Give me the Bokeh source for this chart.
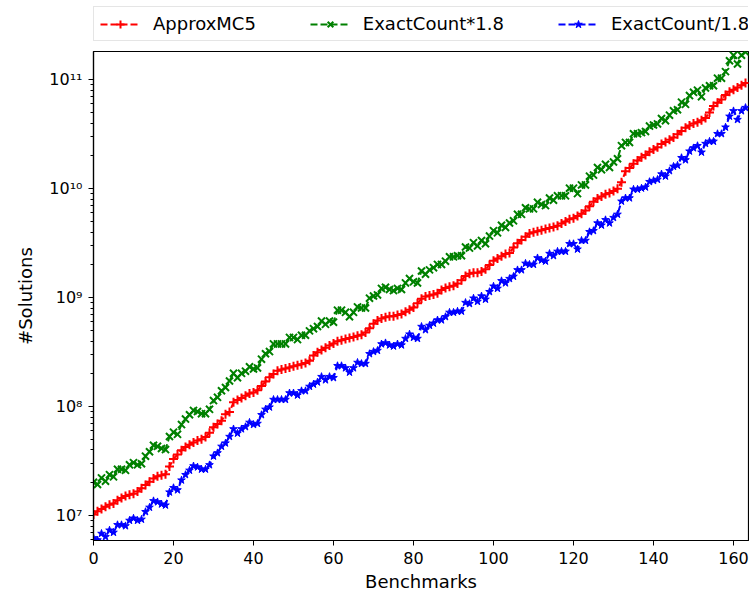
from bokeh.plotting import figure
from bokeh.layouts import column
from bokeh.models import Range1d, FixedTicker, CustomJSTickFormatter, Legend, LegendItem
from bokeh.embed import file_html
from bokeh.resources import INLINE

# Benchmark index
benchmarks = list(range(164))

# log10 of ApproxMC5 counts
approx_log10 = [
    7.01, 7.04, 7.06, 7.08, 7.10, 7.11, 7.14, 7.16, 7.18, 7.19,
    7.20, 7.22, 7.25, 7.28, 7.31, 7.34, 7.36, 7.37, 7.38, 7.45,
    7.52, 7.56, 7.60, 7.63, 7.65, 7.67, 7.69, 7.70, 7.72, 7.76,
    7.81, 7.84, 7.87, 7.93, 7.95, 8.04, 8.06, 8.08, 8.10, 8.12,
    8.13, 8.15, 8.19, 8.23, 8.27, 8.30, 8.33, 8.34, 8.35, 8.36,
    8.37, 8.38, 8.39, 8.40, 8.42, 8.47, 8.50, 8.52, 8.54, 8.56,
    8.58, 8.60, 8.61, 8.62, 8.63, 8.64, 8.65, 8.66, 8.68, 8.72,
    8.76, 8.79, 8.81, 8.82, 8.83, 8.83, 8.84, 8.85, 8.87, 8.89,
    8.91, 8.95, 8.99, 9.01, 9.02, 9.03, 9.04, 9.07, 9.09, 9.10,
    9.11, 9.13, 9.16, 9.20, 9.22, 9.23, 9.23, 9.24, 9.26, 9.30,
    9.34, 9.36, 9.38, 9.40, 9.41, 9.46, 9.50, 9.53, 9.56, 9.59,
    9.60, 9.61, 9.62, 9.63, 9.64, 9.65, 9.66, 9.68, 9.70, 9.72,
    9.73, 9.75, 9.77, 9.80, 9.84, 9.88, 9.91, 9.93, 9.95, 9.96,
    9.98, 10.00, 10.06, 10.16, 10.19, 10.23, 10.26, 10.29, 10.31, 10.34,
    10.36, 10.38, 10.41, 10.43, 10.45, 10.47, 10.50, 10.53, 10.56, 10.58,
    10.60, 10.61, 10.63, 10.65, 10.70, 10.76, 10.79, 10.82, 10.86, 10.89,
    10.91, 10.93, 10.95, 10.97,
]

# log10 of exact counts
exact_log10 = [
    7.05, 7.03, 7.09, 7.06, 7.12, 7.10, 7.17, 7.17, 7.16, 7.21,
    7.23, 7.21, 7.22, 7.29, 7.33, 7.39, 7.38, 7.36, 7.35, 7.47,
    7.51, 7.49, 7.58, 7.63, 7.67, 7.71, 7.70, 7.68, 7.68, 7.72,
    7.80, 7.83, 7.89, 7.92, 7.98, 8.05, 8.01, 8.05, 8.07, 8.11,
    8.09, 8.10, 8.18, 8.23, 8.25, 8.32, 8.32, 8.32, 8.32, 8.38,
    8.38, 8.36, 8.40, 8.40, 8.44, 8.46, 8.48, 8.53, 8.50, 8.53,
    8.52, 8.63, 8.63, 8.61, 8.57, 8.61, 8.66, 8.65, 8.65, 8.74,
    8.76, 8.77, 8.83, 8.84, 8.82, 8.81, 8.83, 8.82, 8.88, 8.92,
    8.89, 8.88, 8.99, 8.96, 9.00, 9.02, 9.05, 9.05, 9.08, 9.12,
    9.12, 9.13, 9.13, 9.21, 9.20, 9.25, 9.22, 9.27, 9.24, 9.31,
    9.36, 9.34, 9.41, 9.39, 9.43, 9.45, 9.51, 9.51, 9.57, 9.56,
    9.56, 9.62, 9.60, 9.59, 9.66, 9.64, 9.68, 9.68, 9.68, 9.75,
    9.75, 9.70, 9.78, 9.78, 9.86, 9.87, 9.94, 9.92, 9.97, 9.94,
    9.99, 10.02, 10.14, 10.17, 10.17, 10.25, 10.25, 10.26, 10.27, 10.32,
    10.33, 10.34, 10.39, 10.37, 10.42, 10.46, 10.47, 10.54, 10.52, 10.60,
    10.63, 10.65, 10.59, 10.67, 10.69, 10.69, 10.76, 10.76, 10.82, 10.92,
    10.97, 10.89, 10.97, 11.00,
]

approx = [10 ** v for v in approx_log10]
exact = [10 ** v for v in exact_log10]
exact_hi = [e * 1.8 for e in exact]
exact_lo = [e / 1.8 for e in exact]

series_names = ["ApproxMC5", "ExactCount*1.8", "ExactCount/1.8"]
y_ticks = [1e7, 1e8, 1e9, 1e10, 1e11]
x_ticks = [0, 20, 40, 60, 80, 100, 120, 140, 160]

FONT = "DejaVu Sans"

specs = [
    (approx, "red", "cross", 9, 2.0),
    (exact_hi, "green", "x", 10, 2.0),
    (exact_lo, "blue", "star", 8, 1.0),
]

# ---- main plot ----
p = figure(width=749, height=544, y_axis_type="log",
           x_range=Range1d(0, 163.75), y_range=Range1d(5.9e6, 1.82e11),
           output_backend="svg", toolbar_location=None,
           min_border_left=93, min_border_right=1, min_border_top=1,
           min_border_bottom=53)
p.xgrid.visible = False
p.ygrid.visible = False
p.outline_line_color = "black"
p.outline_line_width = 1.2

for (ys, color, marker, size, lw) in specs:
    p.line(benchmarks, ys, line_color=color, line_width=2, line_dash="7 3")
    p.scatter(benchmarks, ys, marker=marker, size=size, line_color=color,
              fill_color=color, line_width=lw)

p.xaxis.ticker = FixedTicker(ticks=x_ticks)
minor = []
for d in [1e6, 1e7, 1e8, 1e9, 1e10, 1e11]:
    for k in range(2, 10):
        minor.append(d * k)
p.yaxis.ticker = FixedTicker(ticks=y_ticks, minor_ticks=minor)
p.yaxis.formatter = CustomJSTickFormatter(code="""
const sup = {'0':'\u2070','1':'\u00b9','2':'\u00b2','3':'\u00b3','4':'\u2074','5':'\u2075','6':'\u2076','7':'\u2077','8':'\u2078','9':'\u2079','-':'\u207b'};
const e = Math.round(Math.log10(tick));
return '10' + String(e).split('').map(c => sup[c]).join('');
""")

for ax in (p.xaxis[0], p.yaxis[0]):
    ax.axis_line_color = "black"
    ax.axis_line_width = 1.2
    ax.major_tick_line_color = "black"
    ax.minor_tick_line_color = "black"
    ax.major_tick_in = 0
    ax.major_tick_out = 5
    ax.minor_tick_in = 0
    ax.minor_tick_out = 3
    ax.major_label_text_font = FONT
    ax.major_label_text_font_size = "16px"
    ax.major_label_text_color = "black"
    ax.axis_label_text_font = FONT
    ax.axis_label_text_font_size = "18px"
    ax.axis_label_text_font_style = "normal"
    ax.axis_label_text_color = "black"
    ax.major_label_standoff = 6

p.xaxis.minor_tick_line_color = None
p.xaxis.axis_label = "Benchmarks"
p.yaxis.axis_label = "#Solutions"
p.xaxis.axis_label_standoff = 4
p.yaxis.axis_label_standoff = 10

# ---- legend strip above the plot (its frame aligns with the main frame) ----
lg = figure(width=749, height=50, x_axis_type=None, y_axis_type=None,
            x_range=Range1d(0, 1), y_range=Range1d(0, 1),
            output_backend="svg", toolbar_location=None,
            min_border_left=93, min_border_right=1, min_border_top=0,
            min_border_bottom=0, outline_line_color=None)
lg.xgrid.visible = False
lg.ygrid.visible = False
items = []
for (ys, color, marker, size, lw), name in zip(specs, series_names):
    l = lg.line([-5, -4], [-5, -5], line_color=color, line_width=2, line_dash="7 3")
    s = lg.scatter([-5], [-5], marker=marker, size=size, line_color=color,
                   fill_color=color, line_width=lw)
    items.append(LegendItem(label=name, renderers=[l, s]))

legend = Legend(items=items, orientation="horizontal", location=(0, 9),
                glyph_width=40, glyph_height=20, label_standoff=13, spacing=54,
                padding=6, margin=0,
                label_text_font=FONT, label_text_font_size="18px",
                label_text_color="black",
                border_line_color="#cccccc", border_line_width=1.5,
                background_fill_alpha=1.0)
lg.add_layout(legend, "center")

layout = column(lg, p, spacing=0)
open("out.html", "w").write(file_html(layout, INLINE))
